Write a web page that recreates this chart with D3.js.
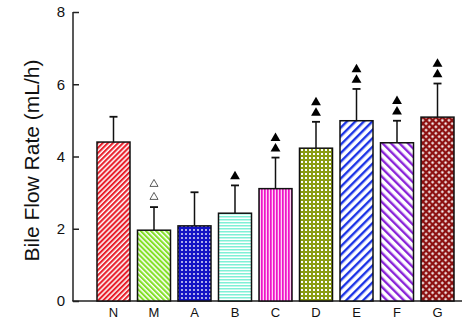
<!DOCTYPE html>
<html><head><meta charset="utf-8">
<script src="https://cdn.jsdelivr.net/npm/d3@7"></script>
<style>body{margin:0;background:#fff}svg{display:block}</style>
</head><body>
<svg id="c" width="474" height="321"></svg>
<script>
const categories = ["N","M","A","B","C","D","E","F","G"];
const means = [4.40, 1.96, 2.08, 2.43, 3.11, 4.23, 4.99, 4.38, 5.09];
const errors = [0.70, 0.64, 0.93, 0.77, 0.86, 0.73, 0.88, 0.61, 0.93];
const marks = ["", "open2", "", "fill1", "fill2", "fill2", "fill2", "fill2", "fill2"];
const yTicks = [0, 2, 4, 6, 8];

const svg = d3.select("#c");
const defs = svg.append("defs");

function stripes(id, color, bg, period, w, angle) {
  const p = defs.append("pattern").attr("id", id).attr("patternUnits", "userSpaceOnUse")
    .attr("width", period).attr("height", period).attr("patternTransform", `rotate(${angle})`);
  p.append("rect").attr("width", period).attr("height", period).attr("fill", bg);
  p.append("rect").attr("width", w).attr("height", period).attr("fill", color);
}
function dots(id, color, bg, period, s, angle) {
  const p = defs.append("pattern").attr("id", id).attr("patternUnits", "userSpaceOnUse")
    .attr("width", period).attr("height", period).attr("patternTransform", `rotate(${angle})`);
  p.append("rect").attr("width", period).attr("height", period).attr("fill", bg);
  p.append("rect").attr("x", (period - s) / 2).attr("y", (period - s) / 2).attr("width", s).attr("height", s).attr("fill", color);
}
stripes("pN", "#e8202c", "#ffffff", 3.6, 2.1, 45);
stripes("pM", "#84e028", "#ffffff", 3.6, 2.1, -45);
dots("pA", "#ffffff", "#1212c4", 4, 1.6, 0);
stripes("pB", "#7ff0d6", "#ffffff", 3, 1.5, 90);
stripes("pC", "#ee14c8", "#ffd0f4", 3, 1.7, 0);
dots("pD", "#ffffff", "#8a9c12", 4, 2, 0);
stripes("pE", "#1c34e6", "#ffffff", 6, 2.4, 45);
stripes("pF", "#8a24d8", "#ffffff", 6, 2.4, -45);
dots("pG", "#ffffff", "#8c1010", 4.6, 2.2, 45);
const fills = ["pN","pM","pA","pB","pC","pD","pE","pF","pG"];

const y = d3.scaleLinear().domain([0, 8]).range([301, 12]);
const x = d3.scaleBand().domain(categories).range([89.5, 461.5]).paddingInner(0.185).paddingOuter(0.185);

// axes
const ya = svg.append("g").attr("transform", "translate(73,0)")
  .call(d3.axisRight(y).tickValues(yTicks).tickSize(6).tickFormat(d3.format("d")));
ya.select(".domain").remove();
ya.selectAll(".tick line").attr("stroke", "#222").attr("stroke-width", 1.5);
ya.selectAll(".tick text").attr("x", -8).attr("text-anchor", "end")
  .attr("font-family", "Liberation Sans, Arial, sans-serif").attr("font-size", 15).attr("fill", "#111");

const xa = svg.append("g").attr("transform", "translate(0,301)")
  .call(d3.axisBottom(x).tickSize(0).tickPadding(7));
xa.select(".domain").remove();
xa.selectAll(".tick text").attr("font-family", "Liberation Sans, Arial, sans-serif").attr("font-size", 13).attr("fill", "#111");

svg.append("line").attr("x1", 73).attr("x2", 73).attr("y1", y(8)).attr("y2", y(0))
  .attr("stroke", "#222").attr("stroke-width", 1.5);
svg.append("line").attr("x1", 72.25).attr("x2", 462).attr("y1", y(0)).attr("y2", y(0))
  .attr("stroke", "#222").attr("stroke-width", 1.5);

svg.append("text").attr("transform", `translate(39,${(y(8)+y(0))/2 + 4}) rotate(-90)`)
  .attr("text-anchor", "middle").attr("font-family", "Liberation Sans, Arial, sans-serif")
  .attr("font-size", 21).attr("fill", "#111").text("Bile Flow Rate (mL/h)");

// error bars
const eg = svg.append("g");
categories.forEach((c, i) => {
  const cx = x(c) + x.bandwidth() / 2;
  eg.append("line").attr("x1", cx).attr("x2", cx).attr("y1", y(means[i])).attr("y2", y(means[i] + errors[i]))
    .attr("stroke", "#111").attr("stroke-width", 1.5);
  eg.append("line").attr("x1", cx - 4).attr("x2", cx + 4).attr("y1", y(means[i] + errors[i])).attr("y2", y(means[i] + errors[i]))
    .attr("stroke", "#111").attr("stroke-width", 1.8);
});

// bars
svg.append("g").selectAll("rect").data(categories).join("rect")
  .attr("x", d => x(d)).attr("width", x.bandwidth())
  .attr("y", (d, i) => y(means[i])).attr("height", (d, i) => y(0) - y(means[i]))
  .attr("fill", (d, i) => `url(#${fills[i]})`).attr("stroke", "#111").attr("stroke-width", 1.5);

// significance markers
const tri = d3.symbol().type(d3.symbolTriangle);
const mg = svg.append("g");
categories.forEach((c, i) => {
  const m = marks[i];
  if (!m) return;
  const cx = x(c) + x.bandwidth() / 2;
  const top = y(means[i] + errors[i]);
  if (m === "open2") {
    [10, 23].forEach(o => mg.append("path").attr("d", tri.size(28)())
      .attr("transform", `translate(${cx},${top - o})`).attr("fill", "#fff").attr("stroke", "#333").attr("stroke-width", 0.8));
  } else {
    const offs = m === "fill1" ? [9] : [9, 19.5];
    offs.forEach(o => mg.append("path").attr("d", tri.size(42)())
      .attr("transform", `translate(${cx},${top - o})`).attr("fill", "#000"));
  }
});
</script>
</body></html>
